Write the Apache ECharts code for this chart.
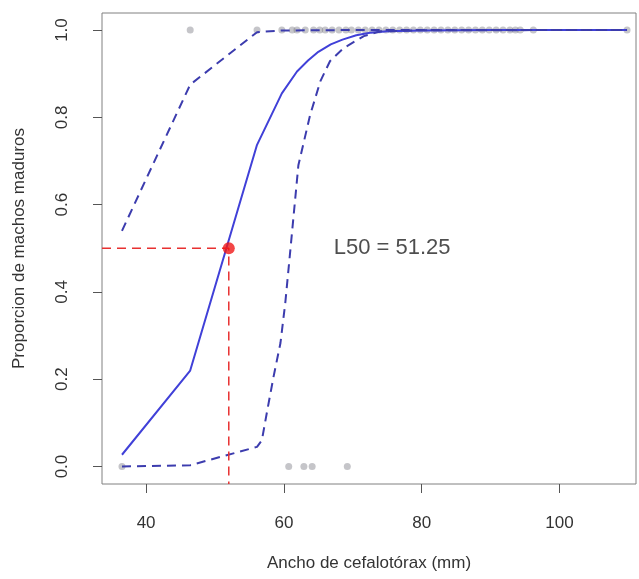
<!DOCTYPE html>
<html lang="es">
<head>
<meta charset="UTF-8">
<title>L50 machos maduros</title>
<script src="https://cdn.jsdelivr.net/npm/echarts@6/dist/echarts.min.js"></script>
<style>
  html, body { margin: 0; padding: 0; background: #fff; }
  #chart { width: 639px; height: 579px; }
</style>
</head>
<body>
<div id="chart"></div>
<script>
// datos observados (0 = inmaduro, 1 = maduro)
const matureX = [46.4, 56.1, 59.7, 61.2, 61.9, 63.1, 64.3, 65.2, 66.0, 67.0, 68.0, 69.0, 69.8,
  70.8, 71.8, 72.8, 73.8, 74.8, 75.8, 76.8, 77.8, 78.8, 79.8, 80.8, 81.8, 82.8, 83.8, 84.8,
  85.8, 86.8, 87.8, 88.8, 89.8, 90.8, 91.8, 92.8, 93.6, 94.3, 96.2, 109.8];
const immatureX = [36.5, 60.7, 62.9, 64.1, 69.2];

// curva ajustada
const fitX = [36.5, 46.4, 56.1, 59.7, 61.9, 63.5, 65.0, 66.8, 68.5, 70.5, 72.5, 75.0, 80.0, 90.0, 109.8];
const fitY = [0.027, 0.22, 0.737, 0.855, 0.905, 0.93, 0.95, 0.967, 0.978, 0.988, 0.994, 0.997, 0.999, 1, 1];

// intervalo de confianza
const upperX = [36.5, 46.4, 56.1, 59.7, 70.0, 109.8];
const upperY = [0.54, 0.875, 0.995, 0.999, 1, 1];
const lowerX = [36.5, 46.4, 56.1, 56.8, 57.6, 58.5, 59.5, 60.2, 60.9, 62.1, 63.8, 65.3, 66.7, 68.7, 71.6, 74.0, 80.0, 109.8];
const lowerY = [0, 0.003, 0.045, 0.06, 0.13, 0.206, 0.283, 0.375, 0.49, 0.69, 0.805, 0.883, 0.929, 0.959, 0.986, 0.997, 0.9995, 1];

const l50Value = 51.25;
const l50Point = [52, 0.5];
const labelPos = [75.7, 0.5];

const xTicks = [40, 60, 80, 100];
const yTicks = [0, 0.2, 0.4, 0.6, 0.8, 1.0];
const xMin = 33.6, xMax = 111.1, yMin = -0.04, yMax = 1.039;

const pair = (xs, ys) => xs.map((x, i) => [x, ys[i]]);
const font = 'Liberation Sans, Arial, sans-serif';

const chart = echarts.init(document.getElementById('chart'));
chart.setOption({
  animation: false,
  grid: { left: 102, right: 3, top: 13, bottom: 95, show: true, borderColor: '#808080', borderWidth: 1 },
  xAxis: {
    type: 'value', min: xMin, max: xMax,
    name: 'Ancho de cefalotórax (mm)', nameLocation: 'middle', nameGap: 71,
    nameTextStyle: { fontSize: 17, color: '#333', fontFamily: font },
    axisLine: { show: false, onZero: false },
    splitLine: { show: false },
    axisTick: { show: true, inside: false, length: 9, customValues: xTicks, lineStyle: { color: '#555' } },
    axisLabel: { customValues: xTicks, margin: 31, fontSize: 17, color: '#333', fontFamily: font }
  },
  yAxis: {
    type: 'value', min: yMin, max: yMax,
    name: 'Proporcion de machos maduros', nameLocation: 'middle', nameGap: 74,
    nameTextStyle: { fontSize: 17, color: '#333', fontFamily: font },
    axisLine: { show: false, onZero: false },
    splitLine: { show: false },
    axisTick: { show: true, inside: false, length: 9, customValues: yTicks, lineStyle: { color: '#555' } },
    axisLabel: {
      customValues: yTicks, rotate: 90, margin: 31, fontSize: 17, color: '#333', fontFamily: font,
      formatter: v => v.toFixed(1)
    }
  },
  series: [
    {
      type: 'scatter', symbol: 'circle', symbolSize: 7,
      itemStyle: { color: 'rgba(110,110,120,0.5)' },
      data: matureX.map(x => [x, 1]).concat(immatureX.map(x => [x, 0])),
      z: 2
    },
    {
      type: 'line', data: pair(fitX, fitY), symbol: 'none',
      lineStyle: { color: '#4040d8', width: 2 }, z: 3
    },
    {
      type: 'line', data: pair(upperX, upperY), symbol: 'none',
      lineStyle: { color: '#3c3cae', width: 2, type: [9, 6] }, z: 3
    },
    {
      type: 'line', data: pair(lowerX, lowerY), symbol: 'none',
      lineStyle: { color: '#3c3cae', width: 2, type: [9, 6] }, z: 3
    },
    {
      type: 'line', symbol: 'none',
      data: [[xMin, l50Point[1]], l50Point, [l50Point[0], yMin]],
      lineStyle: { color: '#e83030', width: 1.5, type: [9, 6] }, z: 4
    },
    {
      type: 'scatter', data: [l50Point], symbolSize: 12,
      itemStyle: { color: '#f01818' }, z: 5
    },
    {
      type: 'scatter', data: [labelPos], symbolSize: 0, silent: true,
      label: {
        show: true, position: 'inside', formatter: 'L50 = ' + l50Value.toFixed(2),
        fontSize: 22, color: '#222', fontFamily: font
      }, z: 5
    }
  ]
});
</script>
</body>
</html>
